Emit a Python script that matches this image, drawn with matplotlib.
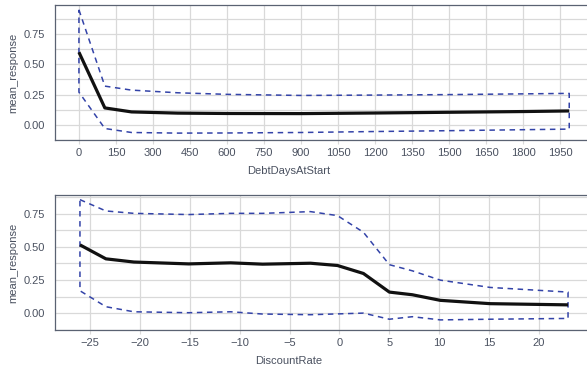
import matplotlib.pyplot as plt
import numpy as np

# DebtDaysAtStart panel
debt_x = [0, 105, 213, 400, 600, 900, 1200, 1500, 1800, 1987]
debt_mean = [0.60, 0.14, 0.107, 0.097, 0.094, 0.093, 0.098, 0.104, 0.110, 0.115]
debt_upper = [0.95, 0.32, 0.287, 0.265, 0.252, 0.243, 0.246, 0.250, 0.256, 0.260]
debt_lower = [0.27, -0.03, -0.063, -0.068, -0.067, -0.063, -0.055, -0.048, -0.040, -0.035]
debt_ticks = list(range(0, 2000, 150))

# DiscountRate panel
dr_x = [-26, -23.4, -20.6, -15.1, -10.9, -7.7, -2.9, -0.2, 2.4, 5.0, 7.3, 10.1, 15.1, 22.9]
dr_mean = [0.515, 0.41, 0.386, 0.372, 0.380, 0.370, 0.377, 0.360, 0.300, 0.160, 0.140, 0.098, 0.073, 0.064]
dr_upper = [0.855, 0.77, 0.752, 0.743, 0.752, 0.752, 0.765, 0.735, 0.61, 0.366, 0.32, 0.25, 0.195, 0.160]
dr_lower = [0.17, 0.05, 0.012, 0.005, 0.012, -0.005, -0.010, -0.004, 0.002, -0.044, -0.025, -0.049, -0.044, -0.038]
dr_ticks = [-25, -20, -15, -10, -5, 0, 5, 10, 15, 20]

y_ticks = [0.0, 0.25, 0.5, 0.75]

plt.rcParams['font.family'] = ['Liberation Sans', 'DejaVu Sans']
txt = '#4a5160'
grid = '#d9d9d9'
band = '#3343a8'

fig = plt.figure(figsize=(5.87, 3.68), dpi=100)
ax1 = fig.add_axes([55/587, 1-140/368, 532/587, 135/368])
ax2 = fig.add_axes([55/587, 1-330/368, 532/587, 135/368])


def panel(ax, x, mean, upper, lower, xticks, xlim, ylim, xlabel):
    # band drawn as one closed dashed outline
    bx = list(x) + list(x[::-1]) + [x[0]]
    by = list(upper) + list(lower[::-1]) + [upper[0]]
    ax.plot(bx, by, color=band, lw=1.1, dashes=(3.6, 3.0), zorder=3)
    ax.plot(x, mean, color='#111111', lw=2.3, solid_capstyle='butt', zorder=4)
    ax.set_xlim(*xlim)
    ax.set_ylim(*ylim)
    ax.set_xticks(xticks)
    ax.set_yticks(y_ticks)
    ax.set_yticklabels(['%.2f' % v for v in y_ticks])
    ax.set_yticks([-0.125, 0.125, 0.375, 0.625, 0.875], minor=True)
    ax.grid(True, which='major', color=grid, lw=0.9)
    ax.grid(True, which='minor', axis='y', color=grid, lw=0.9)
    ax.set_axisbelow(True)
    for s in ['top', 'left', 'bottom']:
        ax.spines[s].set_color('#5a6272')
        ax.spines[s].set_linewidth(0.9)
    ax.spines['right'].set_visible(False)
    ax.tick_params(axis='x', which='major', length=3, color=grid, labelsize=8,
                   labelcolor=txt, pad=3)
    ax.tick_params(axis='y', which='both', length=0, labelsize=8, labelcolor=txt, pad=7)
    ax.set_xlabel(xlabel, fontsize=8, color=txt)
    ax.xaxis.set_label_coords((289-55)/532, -0.19)
    ax.set_ylabel('mean_response', fontsize=8, color=txt)
    ax.yaxis.set_label_coords(-37/532, 0.5)


panel(ax1, debt_x, debt_mean, debt_upper, debt_lower, debt_ticks,
      (-97, 2059), (-0.117, 0.99), 'DebtDaysAtStart')
panel(ax2, dr_x, dr_mean, dr_upper, dr_lower, dr_ticks,
      (-28.5, 24.8), (-0.097, 0.89), 'DiscountRate')
ax2.set_xticklabels(['\u2212%d' % -t if t < 0 else str(t) for t in dr_ticks])

fig.savefig('out.png', dpi=100)
